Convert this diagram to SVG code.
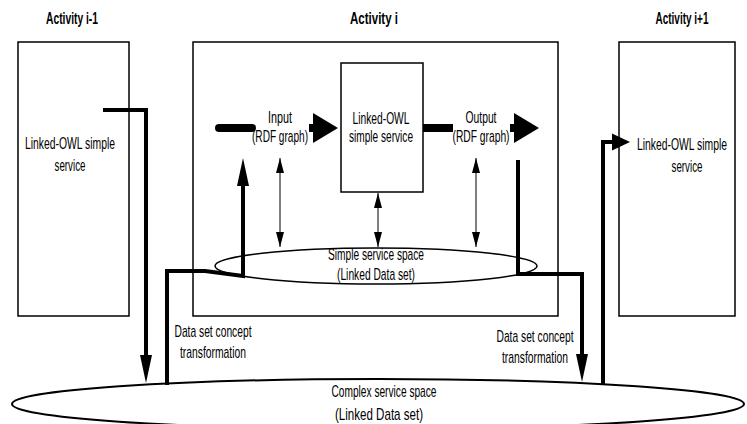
<svg xmlns="http://www.w3.org/2000/svg" width="747" height="424" viewBox="0 0 747 424">
<style>
text{font-family:"Liberation Sans",Arial,sans-serif;font-size:17px;fill:#000;text-anchor:middle}
.t{font-weight:bold}
.box{fill:#fff;stroke:#000;stroke-width:1.5}
.ell{fill:#fff;stroke:#000}
.thick{fill:none;stroke:#000;stroke-width:4}
.bar{fill:none;stroke:#000;stroke-width:8}
.thin{fill:none;stroke:#000;stroke-width:1}
</style>
<defs>
<marker id="big" markerUnits="userSpaceOnUse" orient="auto" refX="0" refY="0" markerWidth="30" markerHeight="30" overflow="visible"><path d="M0,-15 L25,0 L0,15 z" fill="#000"/></marker>
<marker id="tk" markerUnits="userSpaceOnUse" orient="auto" refX="0" refY="0" markerWidth="30" markerHeight="30" overflow="visible"><path d="M0,-6 L28,0 L0,6 z" fill="#000"/></marker>
<marker id="side" markerUnits="userSpaceOnUse" orient="auto" refX="0" refY="0" markerWidth="20" markerHeight="20" overflow="visible"><path d="M0,-8.5 L18,0 L0,8.5 z" fill="#000"/></marker>
<marker id="th" markerUnits="userSpaceOnUse" orient="auto-start-reverse" refX="15" refY="0" markerWidth="16" markerHeight="16" overflow="visible"><path d="M0,-4 L15,0 L0,4 z" fill="#000"/></marker>
</defs>

<g id="complex-space">
<ellipse class="ell" cx="378" cy="404" rx="366" ry="25" stroke-width="2"/>
<text x="384" y="397" textLength="105" lengthAdjust="spacingAndGlyphs">Complex service space</text>
<text x="379" y="420" textLength="88" lengthAdjust="spacingAndGlyphs">(Linked Data set)</text>
</g>

<g id="activity-prev">
<text class="t" x="72" y="24" textLength="52" lengthAdjust="spacingAndGlyphs">Activity i-1</text>
<rect class="box" x="18" y="42" width="111" height="274"/>
<text x="70" y="149" textLength="90" lengthAdjust="spacingAndGlyphs">Linked-OWL simple</text>
<text x="70" y="171" textLength="31" lengthAdjust="spacingAndGlyphs">service</text>
</g>

<g id="activity-i">
<text class="t" x="374" y="24" textLength="48" lengthAdjust="spacingAndGlyphs">Activity i</text>
<rect class="box" x="193" y="42" width="365" height="274"/>
</g>

<g id="simple-space">
<ellipse class="ell" cx="376" cy="266" rx="161" ry="18" stroke-width="1.5"/>
<text x="376" y="260" textLength="96" lengthAdjust="spacingAndGlyphs">Simple service space</text>
<text x="376" y="280" textLength="78" lengthAdjust="spacingAndGlyphs">(Linked Data set)</text>
</g>

<g id="simple-service">
<rect class="box" x="341" y="63" width="82" height="129" stroke-width="2"/>
<text x="381" y="124" textLength="57" lengthAdjust="spacingAndGlyphs">Linked-OWL</text>
<text x="381" y="142" textLength="64" lengthAdjust="spacingAndGlyphs">simple service</text>
</g>

<g id="input">
<text x="280" y="123" textLength="24" lengthAdjust="spacingAndGlyphs">Input</text>
<text x="280" y="142" textLength="56" lengthAdjust="spacingAndGlyphs">(RDF graph)</text>
</g>

<g id="output">
<text x="481" y="123" textLength="31" lengthAdjust="spacingAndGlyphs">Output</text>
<text x="481" y="142" textLength="57" lengthAdjust="spacingAndGlyphs">(RDF graph)</text>
</g>

<g id="activity-next">
<text class="t" x="682" y="24" textLength="53" lengthAdjust="spacingAndGlyphs">Activity i+1</text>
<rect class="box" x="619" y="42" width="116" height="274"/>
<text transform="translate(682,150) scale(0.63,1)" x="0" y="0" textLength="143" lengthAdjust="spacingAndGlyphs">Linked-OWL simple</text>
<text x="687" y="172" textLength="31" lengthAdjust="spacingAndGlyphs">service</text>
</g>

<g id="transform-left">
<text x="213" y="337" textLength="77" lengthAdjust="spacingAndGlyphs">Data set concept</text>
<text x="213" y="358" textLength="66" lengthAdjust="spacingAndGlyphs">transformation</text>
</g>

<g id="transform-right">
<text x="535" y="342" textLength="77" lengthAdjust="spacingAndGlyphs">Data set concept</text>
<text x="535" y="363" textLength="66" lengthAdjust="spacingAndGlyphs">transformation</text>
</g>

<g id="connectors">
<line class="bar" x1="219" y1="128" x2="252" y2="128" stroke-linecap="round"/>
<line class="bar" x1="309" y1="128" x2="313" y2="128" marker-end="url(#big)"/>
<line class="bar" x1="423" y1="128" x2="453" y2="128"/>
<line class="bar" x1="510" y1="128" x2="514" y2="128" marker-end="url(#big)"/>
<path class="thick" d="M103,110 H146 V355" marker-end="url(#tk)"/>
<path class="thick" d="M167,385 V271 L205,271 L243,276 V186" marker-end="url(#tk)"/>
<path class="thick" d="M518,160 V274 H582 V354" marker-end="url(#tk)"/>
<path class="thick" d="M603,385 V142 H612" marker-end="url(#side)"/>
<line class="thin" x1="280" y1="158" x2="280" y2="247" marker-start="url(#th)" marker-end="url(#th)"/>
<line class="thin" x1="378" y1="193" x2="378" y2="247" marker-start="url(#th)" marker-end="url(#th)"/>
<line class="thin" x1="476" y1="158" x2="476" y2="247" marker-start="url(#th)" marker-end="url(#th)"/>
</g>
</svg>
